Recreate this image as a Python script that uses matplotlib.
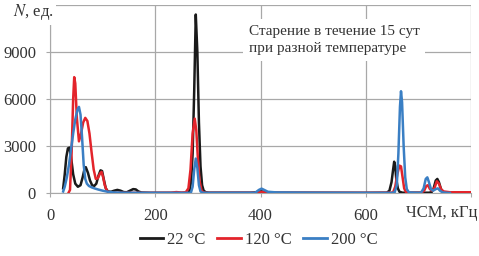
import matplotlib.pyplot as plt
from matplotlib.lines import Line2D

# 22 °C
x_22 = [25, 28, 31, 34, 37, 40, 44, 48, 53, 58, 62, 66, 68, 72, 76, 80, 84, 88, 92, 96, 99, 102, 106,
        110, 116, 122, 128, 134, 140, 146, 152, 158, 163, 168, 174, 190, 240, 262, 265, 268, 271, 274,
        277, 280, 283, 286, 289, 292, 296, 302, 380, 395, 401, 408, 420, 600, 640, 645, 649, 652, 654,
        656, 658, 661, 664, 670, 720, 725, 729, 733, 736, 739, 743, 747, 755, 760]
y_22 = [300, 1200, 2300, 2850, 2900, 2300, 1200, 600, 400, 500, 1000, 1600, 1650, 1300, 800, 500, 450,
        600, 1100, 1450, 1400, 900, 300, 100, 80, 150, 200, 150, 60, 50, 150, 250, 230, 100, 30, 10, 5,
        0, 150, 700, 2500, 6500, 11400, 9000, 4500, 1700, 500, 150, 50, 20, 20, 60, 120, 60, 20, 10, 20,
        150, 700, 1500, 2000, 1700, 900, 300, 80, 20, 20, 50, 300, 800, 900, 700, 250, 60, 20, 10]

# 120 °C
x_120 = [35, 38, 41, 44, 46, 48, 51, 55, 59, 63, 67, 71, 75, 79, 83, 87, 91, 95, 98, 101, 104, 108,
         112, 120, 200, 230, 240, 250, 258, 263, 267, 271, 275, 278, 281, 284, 288, 292, 300, 395, 402,
         410, 600, 648, 652, 656, 660, 664, 667, 670, 673, 676, 680, 705, 711, 715, 718, 722, 726, 731,
         735, 739, 743, 748, 760, 800]
y_120 = [0, 200, 2500, 6000, 7400, 7000, 4800, 3300, 3800, 4500, 4800, 4600, 3800, 2600, 1500, 900, 950,
         1250, 1350, 1000, 500, 150, 40, 10, 10, 20, 60, 30, 50, 300, 1500, 3800, 4750, 4000, 2200, 800,
         150, 30, 10, 20, 80, 20, 10, 20, 50, 400, 1200, 1750, 1700, 1000, 300, 80, 20, 10, 150, 450, 500,
         250, 150, 350, 750, 600, 250, 100, 50, 50]

# 200 °C
x_200 = [25, 28, 32, 36, 40, 44, 48, 52, 55, 58, 61, 64, 67, 70, 74, 80, 86, 92, 100, 110, 120, 140,
         200, 265, 268, 271, 274, 277, 280, 283, 286, 290, 300, 390, 397, 402, 407, 414, 430, 500, 600,
         650, 655, 659, 662, 665, 667, 669, 672, 675, 678, 682, 700, 705, 710, 714, 717, 720, 724, 728,
         733, 737, 741, 746, 755, 760]
y_200 = [100, 400, 1000, 1800, 2800, 3800, 4700, 5300, 5500, 5000, 3500, 1800, 900, 600, 450, 350, 280,
         220, 150, 80, 40, 20, 10, 10, 50, 400, 1500, 2200, 1600, 500, 100, 20, 10, 20, 200, 280, 200, 80,
         40, 20, 10, 10, 50, 500, 2500, 5500, 6500, 5800, 3000, 1000, 250, 40, 10, 20, 300, 900, 1000, 700,
         250, 150, 250, 300, 150, 40, 10, 5]

x_ticks = [0, 200, 400, 600, 800]
x_labels = ['0', '200', '400', '600', '']
y_ticks = [0, 3000, 6000, 9000, 12000]
y_labels = ['0', '3000', '6000', '9000', '']

plt.rcParams['font.family'] = ['Liberation Serif', 'DejaVu Serif']
plt.rcParams['mathtext.fontset'] = 'stix'

fig = plt.figure(figsize=(4.79, 2.56), dpi=100)
ax = fig.add_axes([0.1044, 0.246, 0.8789, 0.734])

ax.plot(x_22, y_22, color='#1a1a1a', lw=1.8, label='22 °C', zorder=3)
ax.plot(x_120, y_120, color='#e3242b', lw=1.8, label='120 °C', zorder=4)
ax.plot(x_200, y_200, color='#3a7fc4', lw=1.8, label='200 °C', zorder=5)

ax.set_xlim(0, 800)
ax.set_ylim(0, 12000)
ax.set_xticks(x_ticks)
ax.set_xticklabels(x_labels)
ax.set_yticks(y_ticks)
ax.set_yticklabels(y_labels)
ax.grid(True, color='#a8a8a8', lw=0.9)
ax.set_axisbelow(True)
for s in ['top', 'right']:
    ax.spines[s].set_visible(False)
for s in ['left', 'bottom']:
    ax.spines[s].set_color('#a8a8a8')
ax.tick_params(colors='#a8a8a8', labelcolor='#333333', labelsize=12, length=3)
ax.tick_params(axis='x', pad=8)
ax.tick_params(axis='y', pad=7)

fig.text(0.027, 0.953, r'$N$, ед.', fontsize=12, color='#333333',
         va='center', ha='left', bbox=dict(facecolor='white', edgecolor='none', pad=2))
fig.text(0.997, 0.168, 'ЧСМ, кГц', fontsize=12, color='#333333',
         va='center', ha='right', bbox=dict(facecolor='white', edgecolor='none', pad=1))
ax.text(378, 10750, 'Старение в течение 15 сут\nпри разной температуре', fontsize=11,
        color='#333333', va='top', ha='left', linespacing=1.45,
        bbox=dict(facecolor='white', edgecolor='none', pad=4))

handles = [Line2D([], [], color='#1a1a1a', lw=2), Line2D([], [], color='#e3242b', lw=2),
           Line2D([], [], color='#3a7fc4', lw=2)]
fig.legend(handles, ['22 °C', '120 °C', '200 °C'], loc='center', bbox_to_anchor=(0.54, 0.062),
           ncol=3, frameon=False, fontsize=12, handlelength=1.4, handletextpad=0.25, columnspacing=0.7,
           labelcolor='#333333')

fig.savefig('out.png', dpi=100)
